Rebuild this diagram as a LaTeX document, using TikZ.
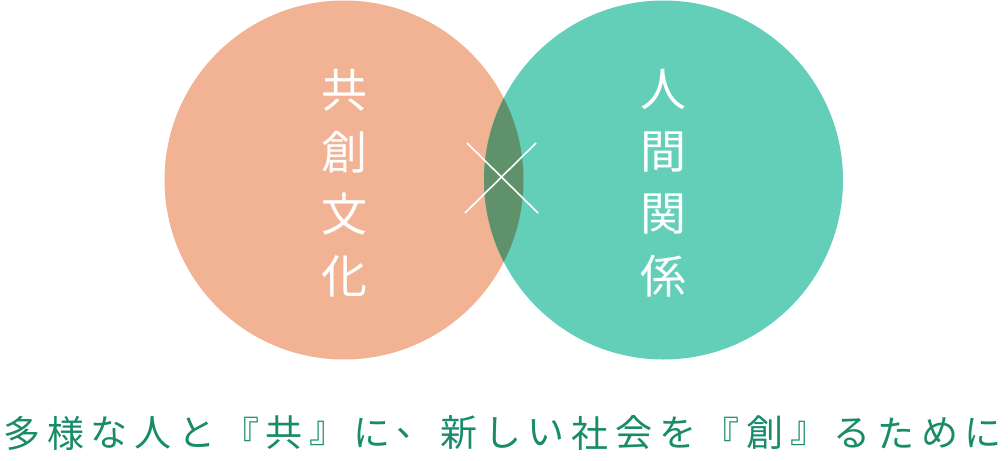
\documentclass[tikz,border=0pt]{standalone}
\usepackage{fontspec}
\newfontfamily\cjk{Noto Sans CJK JP}
\usetikzlibrary{positioning}
\definecolor{salmon}{RGB}{242,179,148}
\definecolor{mint}{RGB}{100,207,184}
\definecolor{overlap}{RGB}{95,146,107}
\definecolor{motto}{RGB}{24,140,104}

\begin{document}
\begin{tikzpicture}[x=1pt,y=-1pt,
  ring/.style={circle,minimum size=359pt,inner sep=0pt},
  big char/.style={text=white,inner sep=0pt,font=\cjk\fontsize{46}{46}\selectfont},
  small char/.style={text=motto,inner sep=0pt,font=\cjk\fontsize{37}{37}\selectfont}]

  \useasboundingbox (0,0) rectangle (1008,460);

  % the two circles and their overlap
  \node[ring,fill=salmon] (left) at (344,180) {};
  \node[ring,fill=mint] (right) at (663.5,180) {};
  \begin{scope}
    \clip (left.center) circle (179.5pt);
    \fill[overlap] (right.center) circle (179.5pt);
  \end{scope}

  % the cross
  \coordinate (x1) at (467,143);
  \coordinate (x2) at (538,213);
  \coordinate (x3) at (536,143);
  \coordinate (x4) at (465,213);
  \draw[white,line width=1.6pt] (x1) -- (x2);
  \draw[white,line width=1.6pt] (x3) -- (x4);

  % vertical words
  \foreach \c [count=\i from 0] in {共,創,文,化}
    \node[big char] (l\i) at (344,{90+62*\i}) {\c};
  \foreach \c [count=\i from 0] in {人,間,関,係}
    \node[big char] (r\i) at (663.5,{90+62*\i}) {\c};

  % motto
  \foreach \c [count=\i from 0] in {多,様,な,人,と,『,共,』,に,、,新,し,い,社,会,を,『,創,』,る,た,め,に}
    \node[small char] (m\i) at ({22+43.7*\i},433) {\c};
\end{tikzpicture}
\end{document}
